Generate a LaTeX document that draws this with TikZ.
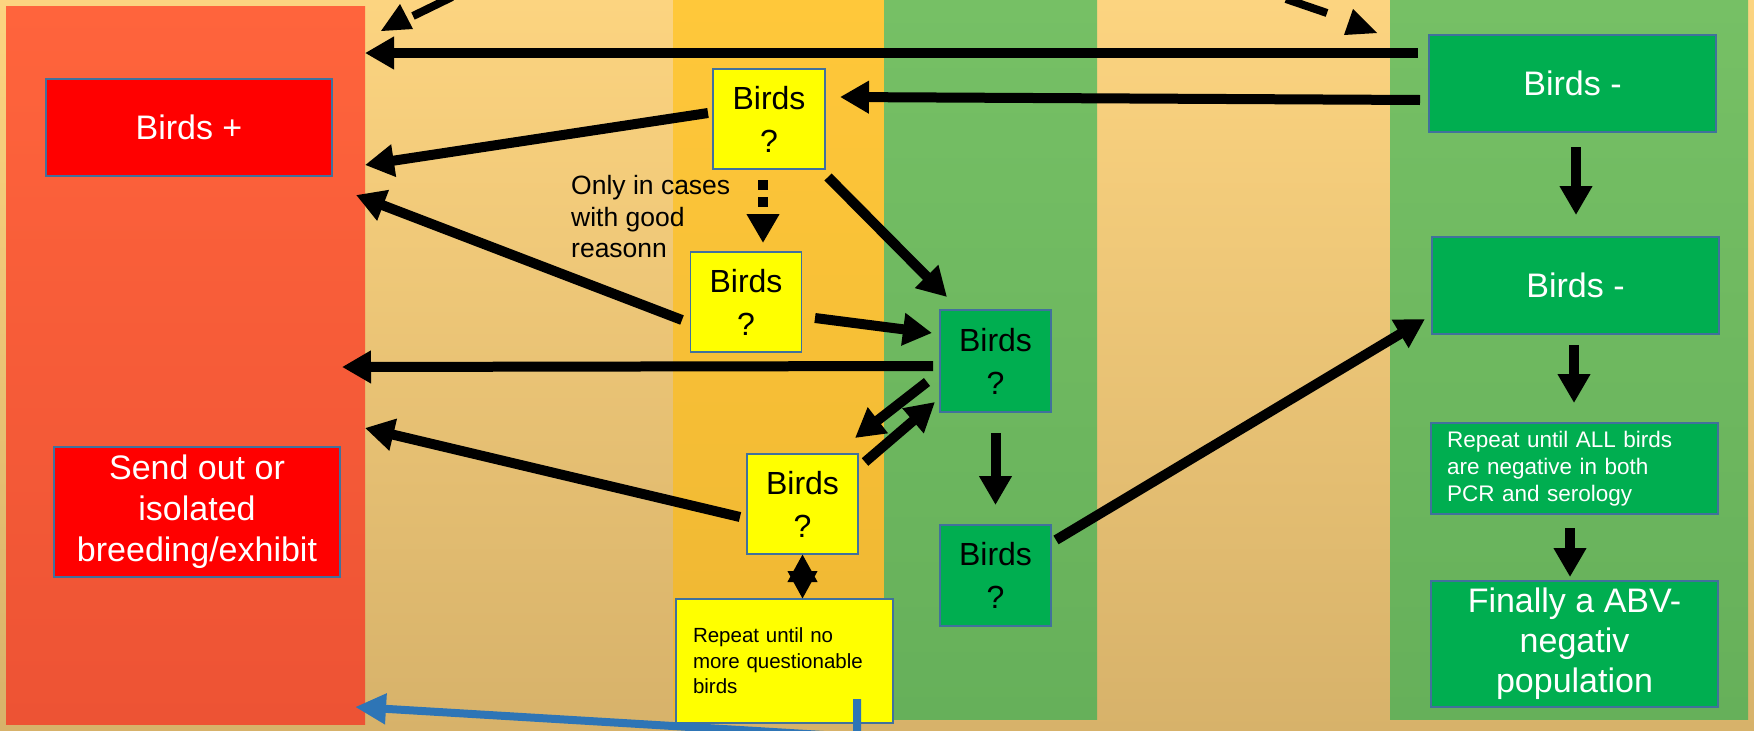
\documentclass[tikz,border=0pt]{standalone}
\usepackage{fontspec}
\setmainfont{Liberation Sans}
\usetikzlibrary{arrows.meta,calc}
\definecolor{bgtop}{RGB}{252,212,128}
\definecolor{bgbot}{RGB}{215,178,106}
\definecolor{redtop}{RGB}{255,100,60}
\definecolor{redbot}{RGB}{237,83,52}
\definecolor{yeltop}{RGB}{255,200,58}
\definecolor{yelbot}{RGB}{238,182,50}
\definecolor{grntop}{RGB}{118,192,101}
\definecolor{grnbot}{RGB}{102,176,90}
\definecolor{boxred}{RGB}{255,0,0}
\definecolor{boxyel}{RGB}{255,255,0}
\definecolor{boxgrn}{RGB}{0,174,80}
\definecolor{bordc}{RGB}{65,113,156}
\definecolor{bluearr}{RGB}{46,117,182}
\begin{document}
\begin{tikzpicture}[x=1pt,y=-1pt,
  colm/.style={inner sep=0pt,outer sep=0pt,draw=none},
  box/.style={draw=bordc,line width=1.5pt,inner sep=0pt,outer sep=0pt,align=center},
  redbox/.style={box,fill=boxred,text=white,font=\fontsize{34}{41}\selectfont,minimum width=286pt},
  ybox/.style={box,fill=boxyel,text=black,font=\fontsize{32}{43}\selectfont,minimum width=111pt,minimum height=100pt},
  gqbox/.style={box,fill=boxgrn,text=black,font=\fontsize{32}{43}\selectfont,minimum width=111pt,minimum height=101pt},
  gbox/.style={box,fill=boxgrn,text=white,minimum width=287pt},
  arr/.style={line width=10pt,-{Triangle[length=29pt,width=31pt]}},
  dblarr/.style={line width=10pt,{Triangle[length=28pt,width=28pt]}-{Triangle[length=28pt,width=28pt]}},
  bluearrow/.style={draw=bluearr,line width=8pt,-{Triangle[length=31pt,width=29pt]}},
]
\useasboundingbox (0,0) rectangle (1754,731);
\clip (0,0) rectangle (1754,731);
% background
\fill[top color=bgtop,bottom color=bgbot] (0,0) rectangle (1754,731);
% columns
\node[colm,top color=redtop,bottom color=redbot,minimum width=359pt,minimum height=718pt] (redcol) at (185.5,365) {};
\node[colm,top color=yeltop,bottom color=yelbot,minimum width=211pt,minimum height=719pt] (yelcol) at (778.5,359.5) {};
\node[colm,top color=grntop,bottom color=grnbot,minimum width=213pt,minimum height=719pt] (grncolA) at (990.5,359.5) {};
\node[colm,top color=grntop,bottom color=grnbot,minimum width=358pt,minimum height=719pt] (grncolB) at (1569,359.5) {};
% boxes
\node[redbox,minimum height=97pt] (bplus) at (189,127.5) {Birds +};
\node[redbox,minimum height=130pt] (sendout) at (197,512) {Send out or\\isolated\\breeding/exhibit};
\node[ybox,minimum width=112pt] (y1) at (769,119) {Birds\\?};
\node[ybox] (y2) at (746,302) {Birds\\?};
\node[ybox] (y3) at (802.5,504) {Birds\\?};
\node[gqbox,minimum height=102pt] (g1) at (995.5,361) {Birds\\?};
\node[gqbox] (g2) at (995.5,575.5) {Birds\\?};
\node[box,fill=boxyel,text=black,font=\fontsize{20.5}{25.5}\selectfont,align=left,text width=183pt,minimum width=217pt,minimum height=124pt] (repno) at (784.5,661) {Repeat until no\\more questionable\\birds};
\node[gbox,font=\fontsize{34}{41}\selectfont,minimum height=97pt] (bm1) at (1572.5,83.5) {Birds -};
\node[gbox,font=\fontsize{34}{41}\selectfont,minimum height=97pt] (bm2) at (1575.5,285.5) {Birds -};
\node[gbox,font=\fontsize{22.5}{26.7}\selectfont,align=left,text width=255pt,minimum height=91pt] (repall) at (1574.5,468.5) {Repeat until ALL birds\\are negative in both\\PCR and serology};
\node[gbox,font=\fontsize{34}{40}\selectfont,minimum height=126pt] (final) at (1574.5,644) {Finally a ABV-\\negativ\\population};
\node[font=\fontsize{26.5}{31.5}\selectfont,align=left,anchor=west,inner sep=0pt,text=black] (note) at (571,217) {Only in cases\\with good\\reasonn};
% arrows
\draw[arr] ($(bm1.north west)+(-11,18)$) -- ($(redcol.north east)+(0,47)$);
\draw[arr] ($(bm1.west)+(-9,16.5)$) -- ($(y1.east)+(15,-22)$);
\draw[arr] ($(y1.west)+(-5,-6)$) -- ($(redcol.north east)+(0,159)$);
\draw[arr,dash pattern=on 10pt off 7pt] ($(y1.south)+(-6,11)$) -- ($(y2.north)+(17,-9)$);
\draw[arr] ($(y1.south east)+(3,8)$) -- ($(g1.north west)+(7,-13)$);
\draw[arr] ($(y2.west)+(-8.5,18)$) -- ($(redcol.north east)+(-9,189)$);
\draw[arr] ($(y2.east)+(13.5,16)$) -- ($(g1.west)+(-8,-28)$);
\draw[arr] ($(g1.west)+(-7,5)$) -- ($(redcol.north east)+(-23,361)$);
\draw[arr] ($(g1.west)+(-13,21)$) -- ($(y3.north east)+(-3,-16)$);
\draw[arr] ($(y3.north east)+(7,8)$) -- ($(g1.west)+(-5,41)$);
\draw[arr] ($(y3.west)+(-7,13)$) -- ($(redcol.north east)+(0,422)$);
\draw[dblarr] (y3.south) -- (y3.south |- repno.north);
\draw[arr] ($(g1.south)+(0,21)$) -- ($(g2.north)+(0,-20)$);
\draw[arr] ($(g2.east)+(5,-35.5)$) -- ($(bm2.west)+(-7,33.5)$);
\draw[arr] ($(bm1.south)+(3.5,15)$) -- ($(bm2.north)+(0.5,-22)$);
\draw[arr] ($(bm2.south)+(-1.5,11)$) -- ($(repall.north)+(-0.5,-20)$);
\draw[arr] ($(repall.south)+(-4.5,14)$) -- ($(final.north)+(-4.5,-4)$);
\draw[bluearrow] ($(repno.south east)+(-36,-24)$) -- ++(0,38) -- ($(redcol.north east)+(-10,701)$);
% cut-off dashed arcs at the top edge
\draw[line width=8pt] (452,-3) -- (413,16);
\fill (400,4) -- (381,31) -- (413,29) -- cycle;
\draw[line width=8pt] (1286,-1) -- (1327,13);
\fill (1353,9) -- (1344,35) -- (1377,33) -- cycle;
\end{tikzpicture}
\end{document}
